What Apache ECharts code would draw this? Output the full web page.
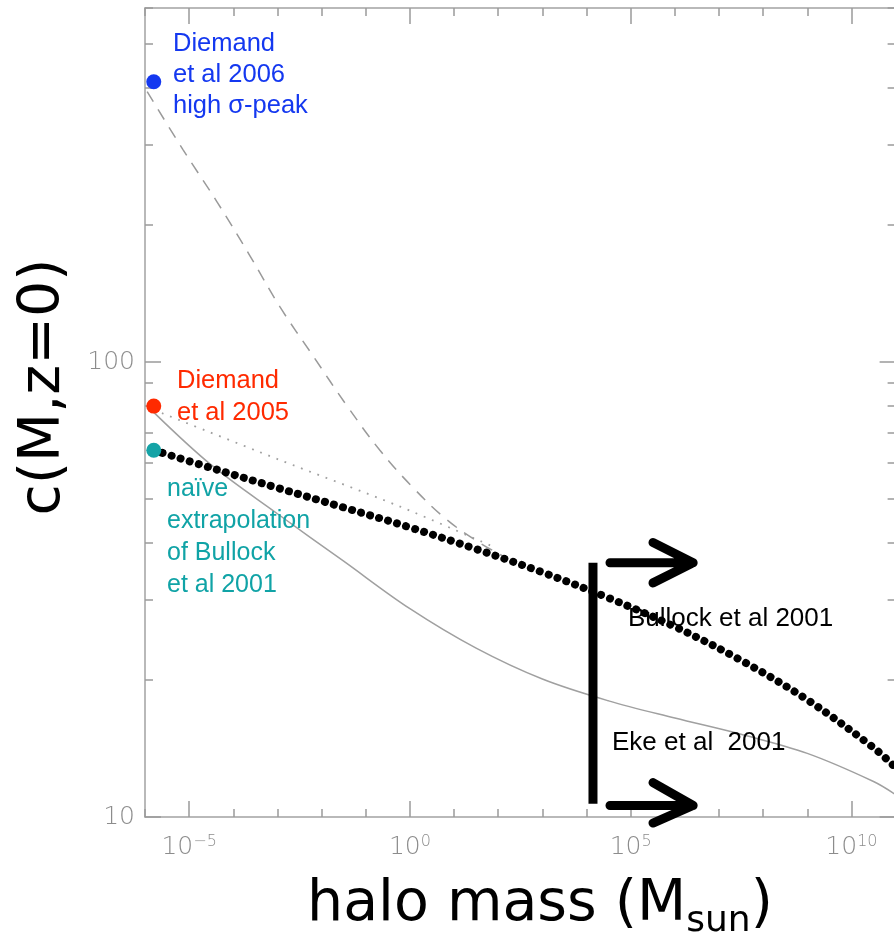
<!DOCTYPE html>
<html><head><meta charset="utf-8">
<script src="https://cdn.jsdelivr.net/npm/echarts@6/dist/echarts.min.js"></script>
<style>html,body{margin:0;padding:0;background:#fff}#c{width:894px;height:940px}</style>
</head><body><div id="c"></div>
<script>
// tick values
const xMajorTicks = [1e-5, 1, 1e5, 1e10];
const xMinorTicks = [1e-6, 1e-4, 1e-3, 1e-2, 1e-1, 10, 100, 1e3, 1e4, 1e6, 1e7, 1e8, 1e9, 1e11];
const yMajorTicks = [10, 100];
const yMinorTicks = [20, 30, 40, 50, 60, 70, 80, 90, 200, 300, 400, 500, 600];

// Bullock et al 2001 (thick dotted)
const bullockMass = [1.58e-6, 3.16e-5, 1e-3, 0.0316, 1, 31.6, 1000, 3.16e4, 1e6, 3.16e7, 1e9, 3.16e10, 1e11];
const bullockC    = [64.0, 58.5, 52.9, 47.9, 43.3, 38.8, 34.5, 30.3, 26.2, 22.1, 18.1, 14.2, 12.85];

// Eke et al 2001 (thin solid)
const ekeMass = [1.58e-6, 3.16e-5, 1e-3, 0.0316, 1, 31.6, 1000, 3.16e4, 1e6, 3.16e7, 1e9, 3.16e10, 1e11];
const ekeC    = [77.5, 59.4, 46.4, 36.5, 28.7, 23.5, 20.1, 18.0, 16.5, 15.2, 13.8, 11.97, 11.2];

// Diemand et al 2006 high sigma-peak (dashed)
const diemand06Mass = [1.12e-6, 7.24e-6, 4.27e-5, 2.40e-4, 1.15e-3, 6.46e-3, 0.038, 0.209, 1.17, 6.92, 38.9, 126];
const diemand06C    = [393, 293, 225, 171, 132, 103, 80, 64, 53, 45, 40, 37.5];

// Diemand et al 2005 (thin dotted)
const diemand05Mass = [1.58e-6, 1e-3, 0.603, 76];
const diemand05C    = [78.5, 61.2, 48.1, 39.3];

// marker dots at the smallest mass
const dotMass = 1.58e-6;
const dotC = { diemand06: 413, diemand05: 80, bullock: 64 };

// free-streaming cutoff bar and arrows (data coords)
const cutoffMass = 1.4e4;
const cutoffC = [36.2, 10.7];
const arrowTailMass = 3.4e4, arrowTipMass = 2.6e6, arrowHeadMass = 3.2e5;
const upperArrowC = [36.2, 40.1, 32.7];   // shaft, head top, head bottom
const lowerArrowC = [10.6, 11.9, 9.7];

const zip = (a, b) => a.map((v, i) => [v, b[i]]);
const gray = '#a2a2a2';
const tickGray = '#9a9a9a';

function arrowData(c) {
  return [[arrowTailMass, c[0]], [arrowTipMass, c[0]], [arrowTipMass, '-'],
          [arrowHeadMass, c[1]], [arrowTipMass, c[0]], [arrowHeadMass, c[2]]];
}

const labelRich = {
  b: { fontSize: 25, fontFamily: 'DejaVu Sans', fontWeight: 200, color: '#8c8c8c', lineHeight: 26 },
  s: { fontSize: 16, fontFamily: 'DejaVu Sans', fontWeight: 200, color: '#8c8c8c', lineHeight: 16, verticalAlign: 'top' }
};

function xAxisCfg(pos, ticks, len, showLine, labels) {
  return {
    type: 'log', logBase: 10, min: 1e-6, max: 1e11, position: pos, gridIndex: 0, z: 0,
    axisLine: { show: showLine, lineStyle: { color: gray, width: 1.5 } },
    axisTick: { show: true, inside: true, length: len, customValues: ticks, lineStyle: { color: tickGray, width: 1.5 } },
    axisLabel: labels ? {
      show: true, customValues: ticks, margin: 17,
      formatter: v => { const e = Math.round(Math.log10(v)); return '{b|10}{s|' + (e < 0 ? '\u2212' + (-e) : e) + '}'; },
      rich: labelRich
    } : { show: false },
    splitLine: { show: false }, minorTick: { show: false }
  };
}
function yAxisCfg(pos, ticks, len, showLine, labels) {
  return {
    type: 'log', logBase: 10, min: 10, max: 600, position: pos, gridIndex: 0, z: 0,
    axisLine: { show: showLine, lineStyle: { color: gray, width: 1.5 } },
    axisTick: { show: true, inside: true, length: len, customValues: ticks, lineStyle: { color: tickGray, width: 1.5 } },
    axisLabel: labels ? {
      show: true, customValues: ticks, margin: 10,
      formatter: v => String(Math.round(v)),
      fontSize: 25, fontFamily: 'DejaVu Sans', fontWeight: 200, color: '#8c8c8c'
    } : { show: false },
    splitLine: { show: false }
  };
}

const chart = echarts.init(document.getElementById('c'), null, { renderer: 'canvas' });
chart.setOption({
  backgroundColor: '#fff',
  animation: false,
  grid: { left: 145, top: 8, width: 750.6, height: 809, containLabel: false, outerBoundsMode: 'none' },
  xAxis: [
    xAxisCfg('bottom', xMajorTicks, 16, true, true),
    xAxisCfg('bottom', xMinorTicks, 8, false, false),
    xAxisCfg('top', xMajorTicks, 16, true, false),
    xAxisCfg('top', xMinorTicks, 8, false, false)
  ],
  yAxis: [
    yAxisCfg('left', yMajorTicks, 16, true, true),
    yAxisCfg('left', yMinorTicks, 8, false, false),
    yAxisCfg('right', yMajorTicks, 16, true, false),
    yAxisCfg('right', yMinorTicks, 8, false, false)
  ],
  title: {
    text: '{m|halo mass (M}{s|sun}{m|)}',
    left: 301, top: 851, padding: [19, 6, 0, 6], backgroundColor: '#fff', z: 20,
    textStyle: {
      fontWeight: 'normal',
      rich: {
        m: { fontSize: 57, fontFamily: 'DejaVu Sans', fontWeight: 'normal', color: '#000', lineHeight: 70 },
        s: { fontSize: 36, fontFamily: 'DejaVu Sans', fontWeight: 'normal', color: '#000', lineHeight: 40, verticalAlign: 'bottom' }
      }
    }
  },
  graphic: [
    { type: 'text', x: 44, y: 387, rotation: Math.PI / 2,
      style: { text: 'c(M,z=0)', font: '57px "DejaVu Sans"', fill: '#000', textAlign: 'center', textVerticalAlign: 'middle', align: 'center', verticalAlign: 'middle' } },
    { type: 'text', x: 173, y: 28, z: 100,
      style: { text: 'Diemand\net al 2006\nhigh \u03c3-peak', font: '25.5px "Liberation Sans"', lineHeight: 31, fill: '#1438f0' } },
    { type: 'text', x: 177, y: 365, z: 100,
      style: { text: 'Diemand\net al 2005', font: '25.5px "Liberation Sans"', lineHeight: 32, fill: '#ff2a00' } },
    { type: 'text', x: 167, y: 473, z: 100,
      style: { text: 'na\u00efve\nextrapolation\nof Bullock\net al 2001', font: '25px "Liberation Sans"', lineHeight: 32, fill: '#10a3a6' } },
    { type: 'text', x: 628, y: 604, z: 100,
      style: { text: 'Bullock et al 2001', font: '26px "Liberation Sans"', lineHeight: 30, fill: '#000' } },
    { type: 'text', x: 612, y: 728, z: 100,
      style: { text: 'Eke et al  2001', font: '26px "Liberation Sans"', lineHeight: 30, fill: '#000' } }
  ],
  series: [
    { name: 'Eke et al 2001', type: 'line', data: zip(ekeMass, ekeC), smooth: 0.35, symbol: 'none',
      lineStyle: { color: '#a0a0a0', width: 1.5 }, z: 2 },
    { name: 'Diemand et al 2005', type: 'line', data: zip(diemand05Mass, diemand05C), smooth: 0.3, symbol: 'none',
      lineStyle: { color: '#a0a0a0', width: 1.8, type: [1.8, 7] }, z: 2 },
    { name: 'Diemand et al 2006', type: 'line', data: zip(diemand06Mass, diemand06C), smooth: 0.4, symbol: 'none',
      lineStyle: { color: '#9a9a9a', width: 1.5, type: [12, 9] }, z: 2 },
    { name: 'Bullock et al 2001', type: 'line', data: zip(bullockMass, bullockC), smooth: 0.35, symbol: 'none',
      lineStyle: { color: '#000', width: 8, type: [0.01, 9.4], cap: 'round' }, z: 3 },
    { name: 'cutoff', type: 'line', data: cutoffC.map(c => [cutoffMass, c]), symbol: 'none', clip: false,
      lineStyle: { color: '#000', width: 9 }, z: 4 },
    { name: 'arrow upper', type: 'line', data: arrowData(upperArrowC), symbol: 'none', clip: false, connectNulls: false,
      lineStyle: { color: '#000', width: 9, cap: 'round', join: 'round' }, z: 4 },
    { name: 'arrow lower', type: 'line', data: arrowData(lowerArrowC), symbol: 'none', clip: false, connectNulls: false,
      lineStyle: { color: '#000', width: 9, cap: 'round', join: 'round' }, z: 4 },
    { name: 'dots', type: 'scatter', symbolSize: 15, z: 5, clip: false,
      data: [
        { value: [dotMass, dotC.diemand06], itemStyle: { color: '#1438f0', opacity: 1 } },
        { value: [dotMass, dotC.diemand05], itemStyle: { color: '#ff2a00', opacity: 1 } },
        { value: [dotMass, dotC.bullock], itemStyle: { color: '#14a3a6', opacity: 1 } }
      ] }
  ]
});
</script></body></html>
